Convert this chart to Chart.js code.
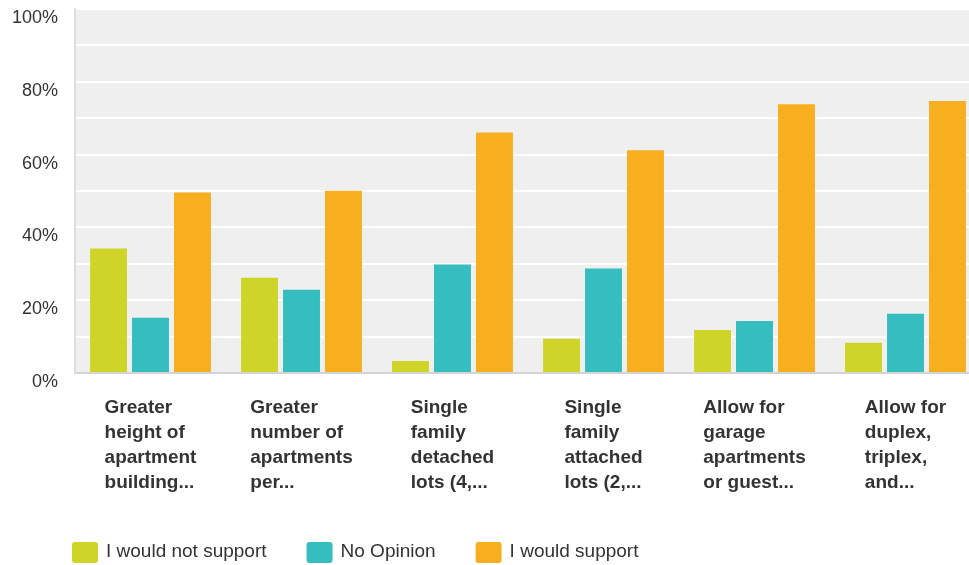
<!DOCTYPE html>
<html>
<head>
<meta charset="utf-8">
<script src="https://cdn.jsdelivr.net/npm/chart.js@4.4.1/dist/chart.umd.min.js"></script>
<style>
  html, body { margin: 0; padding: 0; background: #fff; overflow: hidden; }
  #wrap { width: 984px; height: 565px; position: relative; }
</style>
</head>
<body>
<div id="wrap"><canvas id="surveyChart"></canvas></div>
<script>
// categories (each label split into lines as shown)
const categories = [
    ['Greater', 'height of', 'apartment', 'building...'],
    ['Greater', 'number of', 'apartments', 'per...'],
    ['Single', 'family', 'detached', 'lots (4,...'],
    ['Single', 'family', 'attached', 'lots (2,...'],
    ['Allow for', 'garage', 'apartments', 'or guest...'],
    ['Allow for', 'duplex,', 'triplex,', 'and...']
];

// percentages
const notSupport = [34.2, 26.2, 3.3, 9.4, 11.8, 8.3];
const noOpinion = [15.2, 22.9, 29.8, 28.7, 14.3, 16.3];
const support = [49.6, 50.1, 66.1, 61.2, 73.8, 74.7];

const seriesNames = ['I would not support', 'No Opinion', 'I would support'];
const seriesColors = ['#cfd428', '#35bdc0', '#f7ae1f'];

const FONT = '"Liberation Sans", Arial, sans-serif';
const TEXT_COLOR = '#333333';

// 背景・x軸ラベル・凡例を描くプラグイン
const surveyDecor = {
    id: 'surveyDecor',
    beforeDraw(chart) {
        const { ctx, chartArea } = chart;
        ctx.save();
        ctx.fillStyle = '#efefef';
        ctx.fillRect(chartArea.left, chartArea.top, chartArea.right - chartArea.left, chartArea.bottom - chartArea.top);
        ctx.restore();
    },
    afterDraw(chart) {
        const { ctx, chartArea } = chart;
        const xScale = chart.scales.x;
        ctx.save();

        // x軸ラベル（左揃え、ブロックは中央）
        ctx.font = 'bold 19px ' + FONT;
        ctx.fillStyle = TEXT_COLOR;
        ctx.textBaseline = 'middle';
        ctx.textAlign = 'left';
        categories.forEach((lines, i) => {
            const cx = xScale.getPixelForTick(i);
            const w = Math.max(...lines.map(l => ctx.measureText(l).width));
            lines.forEach((line, j) => {
                ctx.fillText(line, cx - w / 2, chartArea.bottom + 35 + j * 25);
            });
        });

        // 凡例
        ctx.font = '19px ' + FONT;
        let x = 72;
        const y = 552;
        seriesNames.forEach((name, i) => {
            ctx.fillStyle = seriesColors[i];
            ctx.beginPath();
            ctx.roundRect(x, y - 10, 26, 21, 3);
            ctx.fill();
            ctx.fillStyle = TEXT_COLOR;
            ctx.fillText(name, x + 34, y);
            x += 34 + ctx.measureText(name).width + 40;
        });

        ctx.restore();
    }
};

const ctx = document.getElementById('surveyChart').getContext('2d');

new Chart(ctx, {
    type: 'bar',
    data: {
        labels: categories,
        datasets: [notSupport, noOpinion, support].map((values, i) => ({
            label: seriesNames[i],
            data: values,
            backgroundColor: seriesColors[i],
            borderWidth: 0,
            categoryPercentage: 0.834,
            barPercentage: 0.88
        }))
    },
    options: {
        responsive: true,
        maintainAspectRatio: false,
        animation: false,
        layout: {
            padding: { left: 0, right: 3, top: 9, bottom: 184 }
        },
        plugins: {
            legend: { display: false },
            tooltip: { enabled: false }
        },
        scales: {
            x: {
                ticks: { display: false },
                grid: { display: false },
                border: { display: true, color: '#d4d4d4', width: 2 }
            },
            y: {
                min: 0,
                max: 100,
                afterFit(scale) {
                    scale.width = 75;
                    scale.paddingTop = 0;
                    scale.paddingBottom = 0;
                },
                ticks: {
                    stepSize: 10,
                    padding: 17,
                    labelOffset: 9,
                    color: TEXT_COLOR,
                    font: { family: FONT, size: 18 },
                    callback: v => (v % 20 === 0 ? v + '%' : '')
                },
                grid: {
                    color: '#ffffff',
                    lineWidth: 2,
                    drawTicks: false
                },
                border: { display: true, color: '#dddddd', width: 2 }
            }
        }
    },
    plugins: [surveyDecor]
});
</script>
</body>
</html>
